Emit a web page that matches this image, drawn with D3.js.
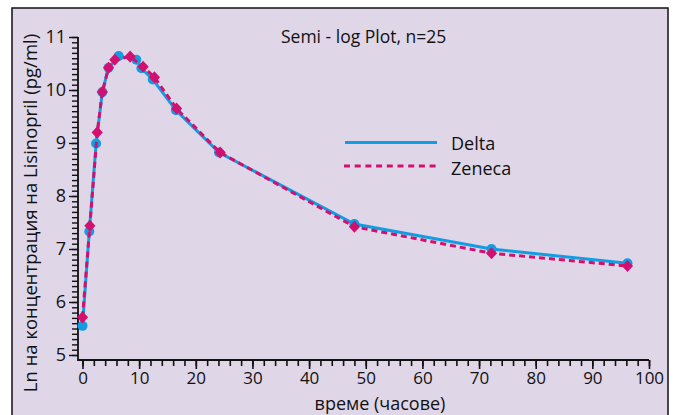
<!DOCTYPE html>
<html><head><meta charset="utf-8">
<script src="https://cdn.jsdelivr.net/npm/d3@7"></script>
<style>body{margin:0;background:#fff}svg{display:block}text{font-family:"Open Sans",sans-serif;fill:#111}</style>
</head><body><svg id="c" width="675" height="415"></svg>
<script>
const deltaTime = [0, 1.2, 2.4, 3.5, 4.6, 6.4, 9.5, 10.4, 12.4, 16.5, 24.1, 48, 72.2, 96.2];
const deltaValue = [5.55, 7.33, 8.99, 9.96, 10.42, 10.64, 10.57, 10.41, 10.20, 9.62, 8.82, 7.47, 7.00, 6.73];
const zenecaTime = [0, 1.3, 2.6, 3.5, 4.6, 5.7, 8.4, 10.7, 12.7, 16.6, 24.3, 48, 72.2, 96.2];
const zenecaValue = [5.71, 7.44, 9.20, 9.96, 10.42, 10.57, 10.63, 10.44, 10.24, 9.65, 8.82, 7.42, 6.92, 6.68];
const xTicks = [0, 10, 20, 30, 40, 50, 60, 70, 80, 90, 100];
const yTicks = [5, 6, 7, 8, 9, 10, 11];
const seriesNames = ["Delta", "Zeneca"];
const titleText = "Semi - log Plot, n=25";
const xLabel = "време (часове)";
const yLabel = "Ln на концентрация на Lisinopril (pg/ml)";

const blue = "#129CE2", mag = "#D3106F";
const svg = d3.select("#c");
svg.append("rect").attr("x", 12).attr("y", 8).attr("width", 656).attr("height", 420)
  .attr("fill", "#DFD6E8").attr("stroke", "#111").attr("stroke-width", 1.5);

const x = d3.scaleLinear().domain([0, 100]).range([82.5, 649]);
const y = d3.scaleLinear().domain([5, 11]).range([355, 37]);
const axX = 78, axY = 360;

const gx = svg.append("g").attr("transform", `translate(0,${axY})`);
gx.call(d3.axisBottom(x).tickValues(d3.range(0, 101, 2)).tickSize(6).tickFormat(""));
gx.append("g").call(d3.axisBottom(x).tickValues(xTicks).tickSize(9).tickPadding(3).tickFormat(d3.format("d")));
gx.selectAll(".domain").remove();
gx.selectAll("line").attr("stroke", "#111").attr("stroke-width", 1.6);
gx.selectAll("text").attr("font-size", 17).attr("font-family", "Open Sans").attr("fill", "#111");

const gy = svg.append("g").attr("transform", `translate(${axX},0)`);
gy.call(d3.axisLeft(y).tickValues(d3.range(50, 111, 1).map(v => v / 10)).tickSize(6).tickFormat(""));
gy.append("g").call(d3.axisLeft(y).tickValues(yTicks).tickSize(9).tickPadding(3).tickFormat(d3.format("d")));
gy.selectAll(".domain").remove();
gy.selectAll("line").attr("stroke", "#111").attr("stroke-width", 1.4);
gy.selectAll("text").attr("font-size", 18).attr("font-family", "Open Sans").attr("fill", "#111");

svg.append("path").attr("d", `M${axX},${y(11)}V${axY}H${x(100)}`)
  .attr("fill", "none").attr("stroke", "#111").attr("stroke-width", 1.8);

const delta = deltaTime.map((t, i) => [t, deltaValue[i]]);
const zen = zenecaTime.map((t, i) => [t, zenecaValue[i]]);
const line = d3.line().x(d => x(d[0])).y(d => y(d[1]));

svg.append("path").attr("d", line(delta)).attr("fill", "none").attr("stroke", blue).attr("stroke-width", 3);
svg.selectAll(".dc").data(delta).enter().append("circle")
  .attr("cx", d => x(d[0])).attr("cy", d => y(d[1])).attr("r", 5).attr("fill", blue);
svg.append("path").attr("d", line(zen)).attr("fill", "none").attr("stroke", mag).attr("stroke-width", 3)
  .attr("stroke-dasharray", "6,4");
svg.selectAll(".zd").data(zen).enter().append("path")
  .attr("d", d3.symbol(d3.symbolDiamond2, 80)())
  .attr("transform", d => `translate(${x(d[0])},${y(d[1])}) scale(1,1.08)`).attr("fill", mag);

svg.append("line").attr("x1", 345).attr("x2", 437).attr("y1", 142.5).attr("y2", 142.5)
  .attr("stroke", blue).attr("stroke-width", 3);
svg.append("line").attr("x1", 344).attr("x2", 436).attr("y1", 166).attr("y2", 166)
  .attr("stroke", mag).attr("stroke-width", 3).attr("stroke-dasharray", "6,4.7");
svg.append("text").attr("x", 451).attr("y", 150).attr("font-size", 18).text(seriesNames[0]);
svg.append("text").attr("x", 451).attr("y", 174.5).attr("font-size", 18).text(seriesNames[1]);

svg.append("text").attr("x", 281).attr("y", 43).attr("font-size", 17.5).text(titleText);
svg.append("text").attr("x", 380).attr("y", 409.5).attr("text-anchor", "middle").attr("font-size", 18).text(xLabel);
svg.append("text").attr("transform", "translate(37,213) rotate(-90)").attr("text-anchor", "middle")
  .attr("font-size", 18.5).text(yLabel);
</script></body></html>
